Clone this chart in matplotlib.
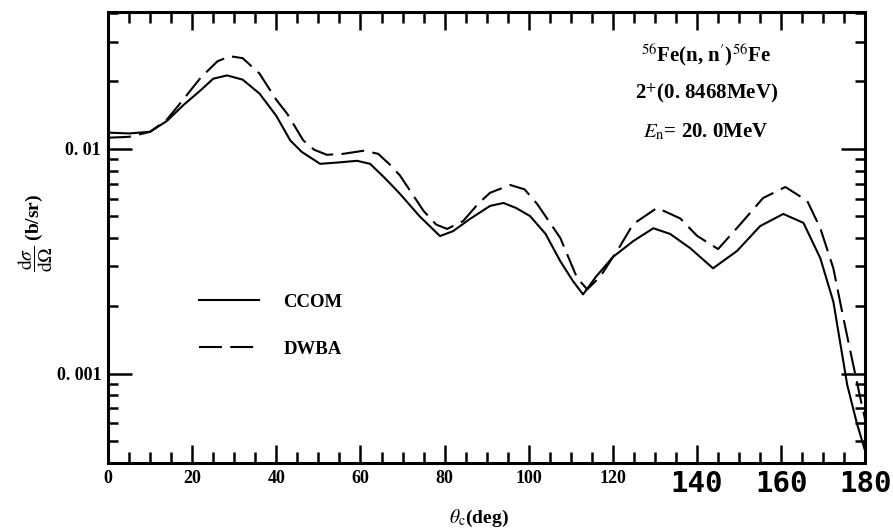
import matplotlib
matplotlib.use("Agg")
import matplotlib.pyplot as plt
from matplotlib.ticker import FixedLocator, LogLocator, NullFormatter, MultipleLocator

plt.rcParams['font.family'] = ['Liberation Serif', 'DejaVu Serif']
plt.rcParams['mathtext.fontset'] = 'stix'

# CCOM (solid) readings
ccom_theta = [0, 5, 10, 14, 18, 22, 25, 28.3, 32, 36, 40, 43.3, 46, 50.4, 55, 59.2,
              62.3, 66, 69.4, 74, 78.9, 82, 86, 90.8, 94, 97, 100.3, 104, 107.5,
              110.5, 112.9, 116, 120, 124.8, 129.6, 133.6, 138.4, 143.8, 149.5,
              155, 160.5, 165.3, 169.3, 172.4, 175.7, 178, 180]
ccom_xs = [0.0118, 0.0117, 0.0119, 0.0133, 0.0157, 0.0182, 0.0205, 0.0212, 0.0203,
           0.0176, 0.0140, 0.0109, 0.0097, 0.00857, 0.0087, 0.00884, 0.00857,
           0.00734, 0.0063, 0.00502, 0.00409, 0.0043, 0.00487, 0.00557, 0.00574,
           0.00545, 0.00502, 0.00418, 0.00316, 0.00258, 0.00225, 0.0027, 0.0033,
           0.00388, 0.00443, 0.00418, 0.00361, 0.00294, 0.00351, 0.00453, 0.00513,
           0.00468, 0.00326, 0.00209, 0.00089, 0.0006, 0.00045]

# DWBA (dashed) readings
dwba_theta = [0, 5, 10, 14, 17, 22, 26, 29, 32, 36, 40, 42.6, 46.4, 49, 52, 56,
              60.7, 64.2, 67, 69.4, 75, 78, 80.6, 84.4, 88, 90.8, 95.6, 99, 102,
              107.5, 111.5, 113.9, 117, 121.7, 124.8, 130.5, 136, 140, 145, 150.3,
              155.7, 161, 166.2, 169.3, 172.4, 174.8, 177.1, 179, 180]
dwba_xs = [0.0112, 0.0113, 0.0119, 0.0135, 0.0158, 0.0207, 0.0245, 0.0258, 0.0253,
           0.0216, 0.0165, 0.0143, 0.0109, 0.0099, 0.0094, 0.0095, 0.0098, 0.0095,
           0.0085, 0.0076, 0.00529, 0.0046, 0.0044, 0.00477, 0.0057, 0.00637,
           0.0069, 0.0066, 0.00568, 0.00401, 0.00266, 0.00237, 0.0027, 0.00369,
           0.00462, 0.00546, 0.0049, 0.0041, 0.00358, 0.00462, 0.00604, 0.00676,
           0.00586, 0.00443, 0.00294, 0.00176, 0.0011, 0.00075, 0.00062]

x_ticks = [0, 20, 40, 60, 80, 100, 120, 140, 160, 180]
y_ticks = [0.001, 0.01]
y_tick_labels = ['0. 001', '0. 01']


def main():
    fig = plt.figure(figsize=(8.93, 5.31), dpi=100)
    ax = fig.add_axes([0.121, 0.128, 0.848, 0.849])

    ax.plot(ccom_theta, ccom_xs, color='black', linewidth=1.5, label='CCOM')
    ax.plot(dwba_theta, dwba_xs, color='black', linewidth=1.5,
            dashes=(11, 4), label='DWBA')

    ax.set_yscale('log')
    ax.set_xlim(0, 180)
    ax.set_ylim(4e-4, 4.05e-2)

    for s in ax.spines.values():
        s.set_linewidth(2.2)

    ax.xaxis.set_major_locator(FixedLocator(x_ticks))
    ax.xaxis.set_minor_locator(MultipleLocator(5))
    ax.set_xticklabels([str(t) for t in x_ticks])
    ax.yaxis.set_major_locator(FixedLocator(y_ticks))
    ax.set_yticklabels(y_tick_labels)
    ax.yaxis.set_minor_locator(LogLocator(base=10, subs=range(2, 10)))
    ax.yaxis.set_minor_formatter(NullFormatter())

    ax.tick_params(axis='both', which='both', direction='in',
                   top=True, right=True, width=1.8)
    ax.tick_params(axis='y', which='major', length=17, pad=5)
    ax.tick_params(axis='y', which='minor', length=7)
    ax.tick_params(axis='x', which='major', length=13, pad=5)
    ax.tick_params(axis='x', which='minor', length=8)

    for lab in ax.get_yticklabels():
        lab.set_fontsize(13)
        lab.set_fontweight('bold')
    for lab in ax.get_xticklabels():
        if lab.get_text() in ('140', '160', '180'):
            lab.set_fontfamily('DejaVu Sans Mono')
            lab.set_fontsize(21)
            lab.set_fontweight('bold')
        else:
            lab.set_fontsize(13)
            lab.set_fontweight('bold')

    ax.set_ylabel(r'$\dfrac{\mathrm{d}\sigma}{\mathrm{d}\Omega}$ (b/sr)',
                  fontsize=14, fontweight='bold')
    ax.yaxis.set_label_coords(-0.07, 0.51)
    ax.set_xlabel(r'$\theta_\mathrm{c}$(deg)', fontsize=14, fontweight='bold')
    ax.xaxis.set_label_coords(0.49, -0.1)

    ax.text(0.79, 0.905, r'$^{56}$Fe(n, n$^{\prime}$)$^{56}$Fe',
            transform=ax.transAxes, ha='center', va='center',
            fontsize=15, fontweight='bold')
    ax.text(0.79, 0.82, r'2$^{+}$(0. 8468MeV)',
            transform=ax.transAxes, ha='center', va='center',
            fontsize=15, fontweight='bold')
    ax.text(0.79, 0.735, r'$E_\mathrm{n}$= 20. 0MeV',
            transform=ax.transAxes, ha='center', va='center',
            fontsize=15, fontweight='bold')

    ax.legend(loc='center left', bbox_to_anchor=(0.12, 0.305),
              frameon=False, handlelength=3.2, handletextpad=1.3,
              labelspacing=1.6, borderpad=0, borderaxespad=0,
              prop={'size': 13.5, 'weight': 'bold'})

    fig.savefig('out.png', dpi=100)


if __name__ == "__main__":
    main()
